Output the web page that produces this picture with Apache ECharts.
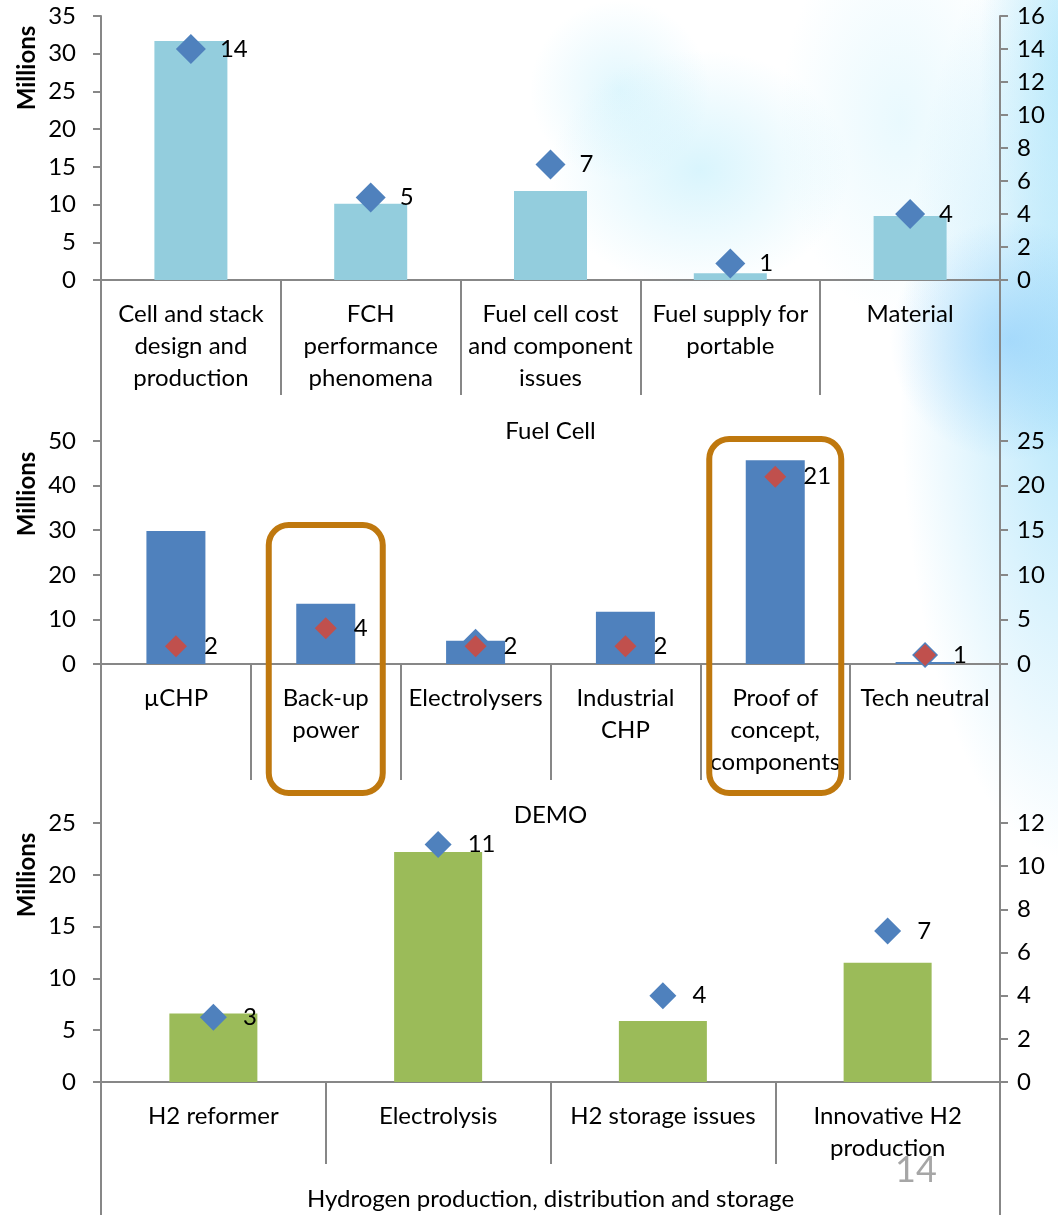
<!DOCTYPE html>
<html><head><meta charset="utf-8">
<script src="https://cdn.jsdelivr.net/npm/echarts@6/dist/echarts.min.js"></script>
<style>
html,body{margin:0;padding:0;width:1058px;height:1215px;overflow:hidden;}
body{
  background-color:#ffffff;
  background-image:
    radial-gradient(ellipse 120px 120px at 1010px 340px, rgba(130,200,250,0.55), rgba(130,200,250,0)),
    radial-gradient(ellipse 150px 120px at 700px 170px, rgba(170,232,250,0.45), rgba(170,232,250,0)),
    radial-gradient(ellipse 90px 90px at 620px 90px, rgba(170,232,250,0.35), rgba(170,232,250,0)),
    radial-gradient(ellipse 170px 480px at 1070px 380px, rgba(165,225,250,0.8), rgba(165,225,250,0)),
    radial-gradient(ellipse 90px 260px at 1070px 60px, rgba(165,228,250,0.7), rgba(165,228,250,0)),
    radial-gradient(ellipse 120px 200px at 900px 120px, rgba(200,240,252,0.4), rgba(200,240,252,0));
}
#c{width:1058px;height:1215px;}
</style></head><body><div id="c"></div>
<script>
// ---- data ----
const fcCategories = ['Cell and stack\ndesign and\nproduction','FCH\nperformance\nphenomena','Fuel cell cost\nand component\nissues','Fuel supply for\nportable','Material'];
const fcBudget   = [31.7, 10.1, 11.8, 0.9, 8.5];
const fcProjects = [14, 5, 7, 1, 4];

const demoCategories = ['µCHP','Back-up\npower','Electrolysers','Industrial\nCHP','Proof of\nconcept,\ncomponents','Tech neutral'];
const demoBudget   = [29.8, 13.5, 5.2, 11.7, 45.7, 0.45];
const demoProjects = [2, 4, 2, 2, 21, 1];
const demoProjectsBehind = [null, null, 2.5, null, null, 1];

const h2Categories = ['H2 reformer','Electrolysis','H2 storage issues','Innovative H2\nproduction'];
const h2Budget   = [6.6, 22.2, 5.9, 11.5];
const h2Projects = [3, 11, 4, 7];

const groupNames = ['Fuel Cell','DEMO','Hydrogen production, distribution and storage'];
const leftMax = [35, 50, 25];
const leftInterval = [5, 10, 5];
const rightMax = [16, 25, 12];
const rightInterval = [2, 5, 2];
const axisTitle = 'Millions';
const pageNumber = '14';

// ---- styling ----
const FONT = 'Lato, "Open Sans", sans-serif';
const FS = 24;
const AX = '#878787';
const grids = [
  {left:101, width:899, top:16,  height:264},
  {left:101, width:899, top:441, height:223},
  {left:101, width:899, top:823, height:260}
];
const innerTick = [115, 116, 82];
const outerTick = [161, 159, 140];
const outerMargin = [135, 135, 101];
const cats = [fcCategories, demoCategories, h2Categories];

const xAxis = [], yAxis = [];
for (let i = 0; i < 3; i++) {
  xAxis.push({
    type:'category', gridIndex:i, data:cats[i], position:'bottom',
    axisLine:{show:true, lineStyle:{color:AX, width:2}},
    axisTick:{show:true, interval:0, alignWithLabel:false, length:innerTick[i], lineStyle:{color:AX, width:2}},
    axisLabel:{interval:0, margin:18, fontSize:FS, lineHeight:32, color:'#000', fontFamily:FONT}
  });
  xAxis.push({
    type:'category', gridIndex:i, data:[groupNames[i]], position:'bottom', offset:0,
    axisLine:{show:false},
    axisTick:{show:true, interval:0, alignWithLabel:false, length:outerTick[i], lineStyle:{color:AX, width:2}},
    axisLabel:{interval:0, margin:outerMargin[i], fontSize:FS, lineHeight:32, color:'#000', fontFamily:FONT}
  });
  yAxis.push({
    type:'value', gridIndex:i, position:'left', min:0, max:leftMax[i], interval:leftInterval[i],
    axisLine:{show:true, lineStyle:{color:AX, width:2}},
    axisTick:{show:true, length:8, lineStyle:{color:AX, width:2}},
    splitLine:{show:false},
    axisLabel:{margin:25, fontSize:FS, color:'#000', fontFamily:FONT}
  });
  yAxis.push({
    type:'value', gridIndex:i, position:'right', min:0, max:rightMax[i], interval:rightInterval[i],
    axisLine:{show:true, lineStyle:{color:AX, width:2}},
    axisTick:{show:true, length:8, lineStyle:{color:AX, width:2}},
    splitLine:{show:false},
    axisLabel:{margin:17, fontSize:FS, color:'#000', fontFamily:FONT}
  });
}

function diamondLabel(dist){
  return {show:true, position:'right', distance:dist, fontSize:FS, color:'#000', fontFamily:FONT};
}

const series = [
  {type:'bar', xAxisIndex:0, yAxisIndex:0, data:fcBudget, barWidth:73, itemStyle:{color:'#93CDDD'}},
  {type:'scatter', xAxisIndex:0, yAxisIndex:1, data:fcProjects, symbol:'diamond', symbolSize:30,
   itemStyle:{color:'#4F81BD', opacity:1}, label:diamondLabel(14), z:5},

  {type:'bar', xAxisIndex:2, yAxisIndex:2, data:demoBudget, barWidth:59, itemStyle:{color:'#4F81BD'}},
  {type:'scatter', xAxisIndex:2, yAxisIndex:3, data:demoProjectsBehind, symbol:'diamond', symbolSize:26,
   itemStyle:{color:'#4F81BD', opacity:1}, z:4},
  {type:'scatter', xAxisIndex:2, yAxisIndex:3, data:demoProjects, symbol:'diamond', symbolSize:22,
   itemStyle:{color:'#C0504D', opacity:1}, label:diamondLabel(17), z:5},

  {type:'bar', xAxisIndex:4, yAxisIndex:4, data:h2Budget, barWidth:88, itemStyle:{color:'#9BBB59'}},
  {type:'scatter', xAxisIndex:4, yAxisIndex:5, data:h2Projects, symbol:'diamond', symbolSize:27,
   itemStyle:{color:'#4F81BD', opacity:1}, label:diamondLabel(16), z:5}
];

const chart = echarts.init(document.getElementById('c'), null, {renderer:'canvas'});
chart.setOption({
  animation:false,
  backgroundColor:'transparent',
  grid:grids,
  xAxis:xAxis,
  yAxis:yAxis,
  series:series
});

// annotations
const graphics = [];
const millionsY = [68, 494, 875];
millionsY.forEach(function(y){
  graphics.push({type:'text', x:27, y:y, rotation:Math.PI/2,
    style:{text:axisTitle, font:'bold 24px ' + FONT, fill:'#000',
      textAlign:'center', textVerticalAlign:'middle'}});
});
graphics.push({type:'text', x:916, y:1170,
  style:{text:pageNumber, font:'36px ' + FONT, fill:'#A6A6A6', textAlign:'center', textVerticalAlign:'middle'}});

const boxes = [
  {idx:1, halfW:57, top:525, bottom:793},
  {idx:4, halfW:66, top:439, bottom:793}
];
boxes.forEach(function(b){
  const cx = chart.convertToPixel({xAxisIndex:2}, b.idx);
  graphics.push({type:'rect', z:100,
    shape:{x:cx - b.halfW, y:b.top, width:b.halfW*2, height:b.bottom - b.top, r:20},
    style:{fill:'none', stroke:'#BF780E', lineWidth:6}});
});
chart.setOption({graphic:graphics});
</script>
</body></html>
